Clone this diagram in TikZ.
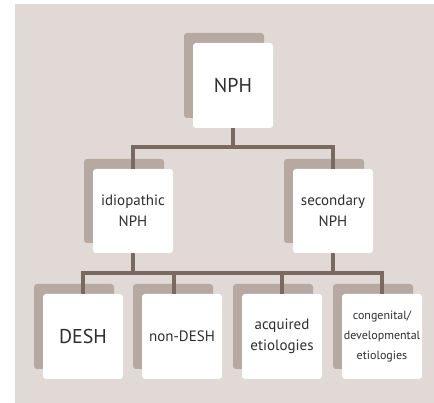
\documentclass[tikz,border=0pt]{standalone}
\usepackage{fontspec}
\setmainfont{PT Sans}
\usepackage{xcolor}
\usetikzlibrary{shadows}

\definecolor{bgpaper}{HTML}{E0D9D5}
\definecolor{boxshade}{HTML}{B6A9A1}
\definecolor{linkbrown}{HTML}{7A6961}
\definecolor{txtgray}{HTML}{2E2E2E}

\tikzset{
  catbox/.style={fill=white, rounded corners=3pt, minimum width=80pt, minimum height=85pt,
    text width=78pt, align=center, inner sep=1pt, text=txtgray,
    general shadow={fill=boxshade, shadow xshift=-9pt, shadow yshift=10pt}},
  bigtxt/.style={font=\fontsize{20}{22}\selectfont},
  midtxt/.style={font=\fontsize{15}{21}\selectfont},
  smalltxt/.style={font=\fontsize{12}{20}\selectfont},
  link/.style={draw=linkbrown, line width=4pt}
}

\begin{document}
\begin{tikzpicture}[x=1pt, y=-1pt]
  \useasboundingbox (0,0) rectangle (434,403);
  \fill[bgpaper] (15,4) rectangle (434,403);

  % top level
  \node[catbox, bigtxt] (nph) at (233,85.5) {NPH};

  % second level
  \node[catbox, midtxt, minimum height=84pt] (idio) at (133,211) {idiopathic\\NPH};
  \node[catbox, midtxt, minimum height=84pt] (sec) at (333,211) {secondary\\NPH};

  % third level
  \node[catbox, bigtxt] (desh) at (83,336.5) {DESH};
  \node[catbox, midtxt] (nondesh) at (182,336.5) {non-DESH};
  \node[catbox, midtxt] (acq) at (282,336.5) {acquired\\etiologies};
  \node[catbox, smalltxt] (cong) at (382,336.5) {congenital/\\developmental\\etiologies};

  \coordinate (bar1) at (233,147);
  \coordinate (bar2) at (233,273);
  \coordinate (nondeshtop) at (174,294);

  \draw[link] (nph.south) -- (bar1);
  \draw[link] (idio.north) -- (idio.north |- bar1) -- (sec.north |- bar1) -- (sec.north);

  \draw[link] (idio.south) -- (idio.south |- bar2);
  \draw[link] (sec.south) -- (sec.south |- bar2);
  \draw[link] (desh.north) -- (desh.north |- bar2) -- (cong.north |- bar2) -- (cong.north);
  \draw[link] (nondeshtop) -- (nondeshtop |- bar2);
  \draw[link] (acq.north) -- (acq.north |- bar2);
\end{tikzpicture}
\end{document}
